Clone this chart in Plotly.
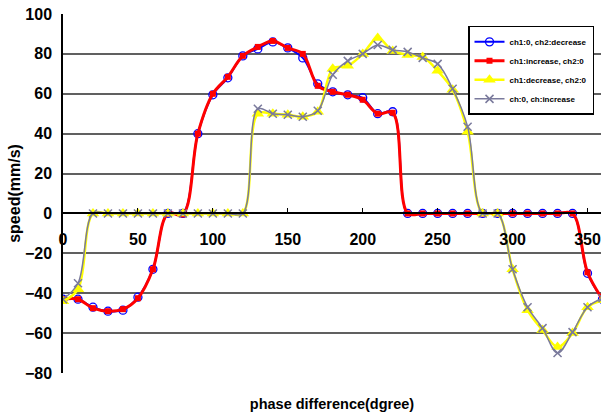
import plotly.graph_objects as go

deg = list(range(0, 361, 10))

ch2_decrease = [-43, -43, -47, -49, -48.5, -42, -28, 0, 0, 40, 59.5, 68, 79, 82.5, 86, 83, 78, 65, 61, 59.5,
                58, 50, 51, 0, 0, 0, 0, 0, 0, 0, 0, 0, 0, 0, 0, -30, -43]
ch1_increase = [-43, -43, -47.5, -49, -48, -42.5, -28, 0, -0.5, 40, 60, 68.5, 79, 83.5, 86.5, 83, 80, 64, 61, 59.5,
                57, 50, 50.5, 0, 0, 0, 0, 0, 0, 0, 0, 0, 0, 0, 0, -29.5, -43]
ch1_decrease = [-44, -38, 0, 0, 0, 0, 0, 0, 0, 0, 0, 0, 0, 50, 50, 49.5, 48.5, 51, 72.5, 74,
                80, 88, 81.5, 79.5, 78.5, 71.5, 62, 41, 0, 0, -28, -48.5, -58.5, -67, -60, -47, -43.5]
ch_increase = [-43, -35, 0, 0, 0, 0, 0, 0, 0, 0, 0, 0, 0, 52.5, 50, 49.5, 48.5, 51.5, 69.5, 76.5,
               80, 84.5, 82, 81, 78, 75, 62.5, 43.5, 0, 0, -28, -47, -57.5, -70, -59.5, -47, -42.5]

names = ["ch1:0, ch2:decrease", "ch1:increase, ch2:0", "ch1:decrease, ch2:0", "ch:0, ch:increase"]
x_ticks = [0, 50, 100, 150, 200, 250, 300, 350]
y_ticks = [-80, -60, -40, -20, 0, 20, 40, 60, 80, 100]

FONT = "Liberation Sans"
GRAY = "#7a7a9c"

fig = go.Figure()
fig.add_trace(go.Scatter(x=deg, y=ch2_decrease, name=names[0], mode="lines+markers",
                         line=dict(color="#0000ff", width=2, shape="spline", smoothing=1),
                         marker=dict(symbol="circle-open", size=8, color="#0000ff", line=dict(width=1.3))))
fig.add_trace(go.Scatter(x=deg, y=ch1_increase, name=names[1], mode="lines+markers",
                         line=dict(color="#ff0000", width=3, shape="spline", smoothing=1),
                         marker=dict(symbol="square", size=6, color="#ff0000")))
fig.add_trace(go.Scatter(x=deg, y=ch1_decrease, name=names[2], mode="lines+markers",
                         line=dict(color="#ffff00", width=2.5, shape="spline", smoothing=1),
                         marker=dict(symbol="triangle-up", size=11, color="#ffff00")))
fig.add_trace(go.Scatter(x=deg, y=ch_increase, name=names[3], mode="lines+markers",
                         line=dict(color=GRAY, width=1.5, shape="spline", smoothing=1),
                         marker=dict(symbol="x-thin", size=8, color=GRAY, line=dict(width=1.5, color=GRAY))))
# empty trace so the crossing axis (x2) is drawn
fig.add_trace(go.Scatter(x=[], y=[], xaxis="x2", showlegend=False, hoverinfo="skip"))

ymin, ymax = -80, 100
fig.update_layout(
    width=601, height=419,
    margin=dict(l=63, r=0, t=14, b=46, autoexpand=False),
    paper_bgcolor="white", plot_bgcolor="white",
    font=dict(family=FONT, size=16, color="black"),
    showlegend=True,
    legend=dict(x=0.987, y=0.967, xanchor="right", yanchor="top",
                bgcolor="white", bordercolor="black", borderwidth=1.5,
                font=dict(family=FONT, size=8, weight="bold"),
                tracegroupgap=0, itemwidth=30),
    xaxis=dict(range=[0, 359], showgrid=False, showline=False, showticklabels=False, ticks="",
               zeroline=False,
               title=dict(text="phase difference(dgree)", font=dict(family=FONT, size=14.5, weight="bold"),
                          standoff=25)),
    xaxis2=dict(overlaying="x", matches="x", anchor="free", position=(0 - ymin) / (ymax - ymin),
                side="bottom", showline=True, linecolor="black", linewidth=1.5,
                ticks="inside", ticklen=5, tickcolor="black", tickwidth=1,
                tickvals=x_ticks, showgrid=False, zeroline=False,
                tickfont=dict(family=FONT, size=16, weight="bold"), ticklabelstandoff=12),
    yaxis=dict(range=[ymin, ymax], tickvals=y_ticks, showgrid=True, gridcolor="#606060", gridwidth=1.5,
               zeroline=False, showline=True, linecolor="black", linewidth=1.5, ticks="",
               tickfont=dict(family=FONT, size=16, weight="bold"), ticklabelstandoff=6,
               title=dict(text="speed(mm/s)", font=dict(family=FONT, size=16, weight="bold"), standoff=0)),
)

fig.write_html("out.html")
